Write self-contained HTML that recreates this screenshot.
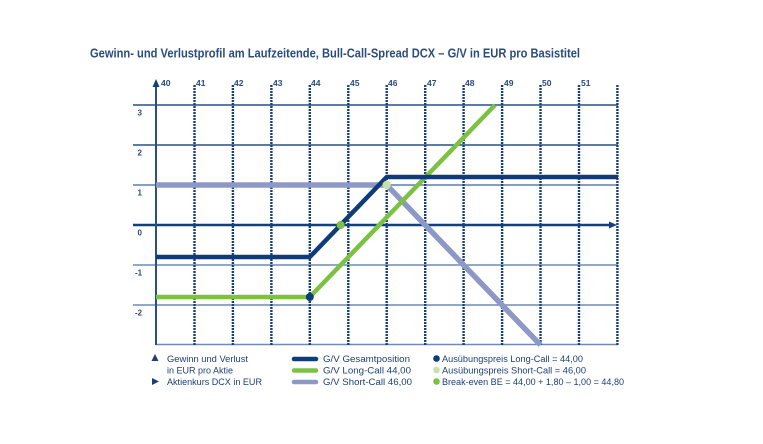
<!DOCTYPE html>
<html><head><meta charset="utf-8"><style>
html,body{margin:0;padding:0;background:#fff;}
svg{display:block;}
text{font-family:"Liberation Sans",sans-serif;}
</style></head><body>
<svg width="763" height="444" viewBox="0 0 763 444" xmlns="http://www.w3.org/2000/svg">
<rect width="763" height="444" fill="#fff"/>
<text x="90" y="57.5" font-size="12.5" font-weight="bold" fill="#2c4c7c" textLength="490" lengthAdjust="spacingAndGlyphs">Gewinn- und Verlustprofil am Laufzeitende, Bull-Call-Spread DCX – G/V in EUR pro Basistitel</text>

<!-- horizontal gridlines -->
<g stroke-width="1.4">
<line x1="133" y1="105" x2="618" y2="105" stroke="#2a4f85"/>
<line x1="133" y1="145" x2="618" y2="145" stroke="#2a4f85"/>
<line x1="133" y1="185" x2="618" y2="185" stroke="#5f7eaa"/>
<line x1="133" y1="265" x2="618" y2="265" stroke="#6f8bb3"/>
<line x1="133" y1="305" x2="618" y2="305" stroke="#6f8bb3"/>
<line x1="156" y1="344.5" x2="618" y2="344.5" stroke="#6f8bb3"/>
</g>

<!-- vertical dotted gridlines -->
<g stroke="#173f78" stroke-width="2.4" stroke-dasharray="2 1">
<line x1="194.5" y1="85" x2="194.5" y2="345"/>
<line x1="232.9" y1="85" x2="232.9" y2="345"/>
<line x1="271.4" y1="85" x2="271.4" y2="345"/>
<line x1="309.8" y1="85" x2="309.8" y2="345"/>
<line x1="348.3" y1="85" x2="348.3" y2="345"/>
<line x1="386.7" y1="85" x2="386.7" y2="345"/>
<line x1="425.2" y1="85" x2="425.2" y2="345"/>
<line x1="463.6" y1="85" x2="463.6" y2="345"/>
<line x1="502.1" y1="85" x2="502.1" y2="345"/>
<line x1="540.5" y1="85" x2="540.5" y2="345"/>
<line x1="579.0" y1="85" x2="579.0" y2="345"/>
<line x1="617.4" y1="85" x2="617.4" y2="345"/>
</g>

<!-- zero axis -->
<line x1="133" y1="225" x2="612" y2="225" stroke="#133f7a" stroke-width="2.6"/>
<polygon points="617,225 609,221.5 609,228.5" fill="#133f7a"/>
<!-- y axis -->
<line x1="156" y1="86" x2="156" y2="345" stroke="#2a4f85" stroke-width="2"/>
<polygon points="156,79 152.5,87 159.5,87" fill="#133f7a"/>

<!-- x labels -->
<g font-size="8.5" font-weight="bold" fill="#2a4a7c">
<text x="161" y="86">40</text>
<text x="196" y="86">41</text>
<text x="234" y="86">42</text>
<text x="273" y="86">43</text>
<text x="311" y="86">44</text>
<text x="350" y="86">45</text>
<text x="388" y="86">46</text>
<text x="427" y="86">47</text>
<text x="465" y="86">48</text>
<text x="504" y="86">49</text>
<text x="542" y="86">50</text>
<text x="581" y="86">51</text>
</g>
<!-- y labels -->
<g font-size="8" font-weight="bold" fill="#2a4a7c">
<text x="137.5" y="115.5">3</text>
<text x="137.5" y="155.5">2</text>
<text x="137.5" y="195.5">1</text>
<text x="137.5" y="235.5">0</text>
<text x="135" y="275.5">-1</text>
<text x="135" y="315.5">-2</text>
</g>

<!-- series -->
<polyline points="156,185 386.7,185 540.5,345" fill="none" stroke="#8e98c7" stroke-width="5.5" stroke-linejoin="round"/>
<polyline points="156,297 309.8,297 495,105" fill="none" stroke="#7bc142" stroke-width="4.5" stroke-linejoin="round"/>
<polyline points="156,257 309.8,257 386.7,177 618,177" fill="none" stroke="#0f3b78" stroke-width="4.5" stroke-linejoin="round"/>

<!-- markers -->
<circle cx="309.8" cy="297" r="4" fill="#0f3b78"/>
<circle cx="386.7" cy="185" r="4.2" fill="#c6e1aa"/>
<circle cx="340.6" cy="225" r="4" fill="#7bc142"/>

<!-- legend -->
<g font-size="9" fill="#1d3f73">
<polygon points="155,354 151.5,361 158.5,361" fill="#1d3f73"/>
<text x="167" y="362" textLength="81" lengthAdjust="spacingAndGlyphs">Gewinn und Verlust</text>
<text x="167" y="373.5" textLength="66" lengthAdjust="spacingAndGlyphs">in EUR pro Aktie</text>
<polygon points="152,378 159,381.5 152,385" fill="#1d3f73"/>
<text x="167" y="385" textLength="95" lengthAdjust="spacingAndGlyphs">Aktienkurs DCX in EUR</text>

<line x1="294" y1="359" x2="316" y2="359" stroke="#0f3b78" stroke-width="4.5" stroke-linecap="round"/>
<line x1="294" y1="370.5" x2="316" y2="370.5" stroke="#7bc142" stroke-width="4.5" stroke-linecap="round"/>
<line x1="294" y1="382" x2="316" y2="382" stroke="#8e98c7" stroke-width="4.5" stroke-linecap="round"/>
<text x="323" y="362" textLength="87" lengthAdjust="spacingAndGlyphs">G/V Gesamtposition</text>
<text x="323" y="373.5" textLength="88" lengthAdjust="spacingAndGlyphs">G/V Long-Call 44,00</text>
<text x="323" y="385" textLength="89" lengthAdjust="spacingAndGlyphs">G/V Short-Call 46,00</text>

<circle cx="436.5" cy="358.5" r="3.3" fill="#0f3b78"/>
<circle cx="436.5" cy="370" r="3.3" fill="#c6e1aa"/>
<circle cx="436.5" cy="381.5" r="3.3" fill="#7bc142"/>
<text x="442" y="362" textLength="141" lengthAdjust="spacingAndGlyphs">Ausübungspreis Long-Call = 44,00</text>
<text x="442" y="373.5" textLength="144" lengthAdjust="spacingAndGlyphs">Ausübungspreis Short-Call = 46,00</text>
<text x="442" y="385" textLength="182" lengthAdjust="spacingAndGlyphs">Break-even BE = 44,00 + 1,80 – 1,00 = 44,80</text>
</g>
</svg>
</body></html>
